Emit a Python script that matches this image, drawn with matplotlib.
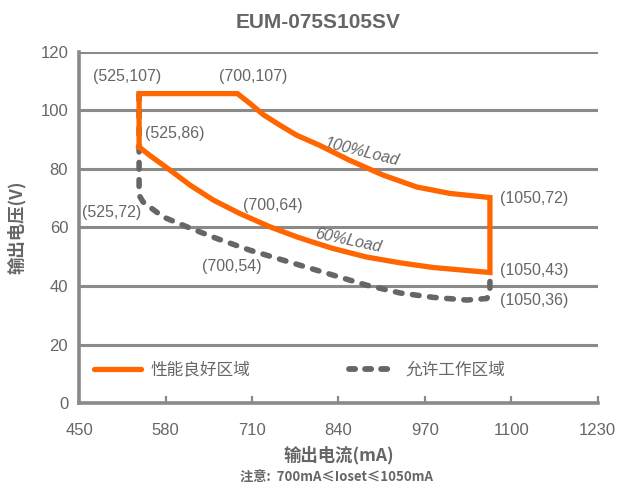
import matplotlib
matplotlib.use("Agg")
import matplotlib.pyplot as plt
from matplotlib.lines import Line2D

plt.rcParams["font.family"] = ["Liberation Sans", "Noto Sans CJK SC", "DejaVu Sans"]

# data (curve positions as drawn)
full_x = [540, 540, 688, 707, 727, 752, 777, 812, 857, 908, 958, 1008, 1068]
full_y = [87.5, 105.7, 105.7, 102.3, 98.5, 94.9, 91.5, 88.0, 82.9, 77.8, 73.8, 71.6, 70.2]

part_x = [1068, 1068, 1033, 983, 933, 882, 832, 797, 777, 737, 692, 652, 617, 587, 556, 540]
part_y = [70.2, 44.6, 45.3, 46.3, 47.9, 49.9, 52.8, 55.3, 56.8, 60.2, 64.7, 69.3, 74.4, 79.5, 84.6, 87.5]

allow_x = [540, 540, 546, 576, 612, 657, 707, 757, 782, 832, 882, 933, 983, 1033, 1063, 1068, 1068]
allow_y = [105.7, 71.0, 68.7, 63.6, 60.2, 56.2, 52.2, 48.8, 47.1, 43.7, 40.3, 37.6, 36.1, 35.2, 35.7, 37.0, 45.0]

point_labels = ["(525,107)", "(700,107)", "(525,86)", "(525,72)", "(700,64)",
                "(700,54)", "(1050,72)", "(1050,43)", "(1050,36)"]
label_x = [522, 711, 549, 499, 741, 680, 1083, 1083, 1083]
label_y = [111.6, 111.6, 92.2, 65.2, 67.6, 46.8, 70.0, 45.4, 35.2]
label_ha = ["center", "center", "left", "center", "center", "center", "left", "left", "left"]

x_ticks = [450, 580, 710, 840, 970, 1100, 1230]
y_ticks = [0, 20, 40, 60, 80, 100, 120]

orange = "#ff6600"
dark = "#666666"
grid_c = "#8a8a8a"

fig = plt.figure(figsize=(6.17, 4.94), dpi=100)
ax = fig.add_axes([0.1285, 0.184, 0.84, 0.7113])

ax.set_xlim(450, 1230)
ax.set_ylim(0, 120)
ax.set_xticks(x_ticks)
ax.set_yticks(y_ticks)
ax.grid(axis="y", color=grid_c, linewidth=2.2)
ax.set_axisbelow(True)

for s in ["top", "right"]:
    ax.spines[s].set_visible(False)
for s in ["left", "bottom"]:
    ax.spines[s].set_color(grid_c)
    ax.spines[s].set_linewidth(2.6)

ax.tick_params(axis="x", direction="in", length=5, width=1.6, color=grid_c,
               labelcolor=dark, labelsize=12, pad=14)
ax.tick_params(axis="y", length=0, labelcolor=dark, labelsize=12, pad=8)

# allowed region (dashed) then good region (solid orange)
ax.plot(allow_x, allow_y, color=dark, linewidth=4.0, dashes=(1.2, 1.9),
        dash_capstyle="round", solid_capstyle="round", zorder=3)
ax.plot(full_x + part_x, full_y + part_y, color=orange, linewidth=3.8,
        solid_joinstyle="miter", zorder=4)

for t, x, y, ha in zip(point_labels, label_x, label_y, label_ha):
    ax.text(x, y, t, ha=ha, va="center", fontsize=11.5, color=dark)

ax.text(875, 85.7, "100%Load", rotation=-14, ha="center", va="center",
        fontsize=11.5, color=dark, style="italic")
ax.text(854, 55.6, "60%Load", rotation=-12, ha="center", va="center",
        fontsize=11.5, color=dark, style="italic")

handles = [Line2D([], [], color=orange, linewidth=3.8, solid_capstyle="round"),
           Line2D([], [], color=dark, linewidth=4.2, dashes=(1.05, 1.7), dash_capstyle="round")]
ax.legend(handles, ["性能良好区域", "允许工作区域"], loc="lower left",
          bbox_to_anchor=(0.0, 0.03), ncol=2, frameon=False, fontsize=12,
          handlelength=2.8, handletextpad=0.6, columnspacing=5.9, labelcolor=dark)

fig.text(0.515, 0.955, "EUM-075S105SV", ha="center", va="center",
         fontsize=15, fontweight="bold", color=dark)
ax.set_xlabel("输出电流(mA)", fontsize=12.5, fontweight="bold", color=dark,
              family=["Noto Sans CJK SC"], labelpad=6)
ax.set_ylabel("输出电压(V)", fontsize=12.5, fontweight="bold", color=dark,
              family=["Noto Sans CJK SC"], labelpad=10)
fig.text(0.545, 0.018, "注意:  700mA≤Ioset≤1050mA", ha="center", va="bottom",
         fontsize=9.5, fontweight="bold", color=dark,
         family=["Noto Sans CJK SC", "DejaVu Sans"])

fig.savefig("out.png", dpi=100)
